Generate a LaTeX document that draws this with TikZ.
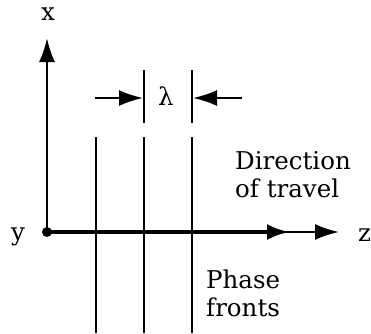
\documentclass[tikz,border=0pt]{standalone}
\usepackage{fontspec}
\setmainfont{DejaVu Serif}
\usetikzlibrary{arrows.meta}
\begin{document}
\begin{tikzpicture}[x=1pt,y=-1pt,
  lbl/.style={font=\fontsize{24.5}{28}\selectfont, inner sep=0pt},
  axis/.style={line width=2.4pt},
  front/.style={line width=2.2pt},
  head/.style={-{Latex[length=24pt,width=16pt]}}]
\useasboundingbox (0,0) rectangle (371,333);
% coordinates
\coordinate (o) at (47,232);
\coordinate (xt) at (47,38);
\coordinate (dt) at (289,232);
\coordinate (zt) at (339,232);
\coordinate (f1t) at (96,137); \coordinate (f1b) at (96,333);
\coordinate (f2t) at (144,137); \coordinate (f2b) at (144,333);
\coordinate (f3t) at (192,137); \coordinate (f3b) at (192,333);
\coordinate (m1t) at (144,70); \coordinate (m1b) at (144,123);
\coordinate (m2t) at (192,70); \coordinate (m2b) at (192,123);
\coordinate (a1s) at (95,98); \coordinate (a1e) at (143,98);
\coordinate (a2s) at (242,98); \coordinate (a2e) at (193,98);
% labels
\node[lbl] (lx) at (48,14) {x};
\node[lbl] (ly) at (18,237) {y};
\node[lbl,anchor=west] (lz) at (358,235) {z};
\node[lbl] (ll) at (166,96) {λ};
\node[lbl,anchor=north west,align=left] (ld) at (235,151) {Direction\\of travel};
\node[lbl,anchor=north west,align=left] (lp) at (206,270) {Phase\\fronts};
% fronts
\draw[front] (f1t) -- (f1b);
\draw[front] (f2t) -- (f2b);
\draw[front] (f3t) -- (f3b);
\draw[front] (m1t) -- (m1b);
\draw[front] (m2t) -- (m2b);
% dimension arrows
\draw[front,head] (a1s) -- (a1e);
\draw[front,head] (a2s) -- (a2e);
% axes
\draw[axis,head] (o) -- (xt);
\draw[line width=2.2pt,head] (o) -- (zt);
\draw[line width=3.5pt,-{Latex[length=22pt,width=16pt]}] (o) -- (dt);
\fill (o) circle (5pt);
\end{tikzpicture}
\end{document}
